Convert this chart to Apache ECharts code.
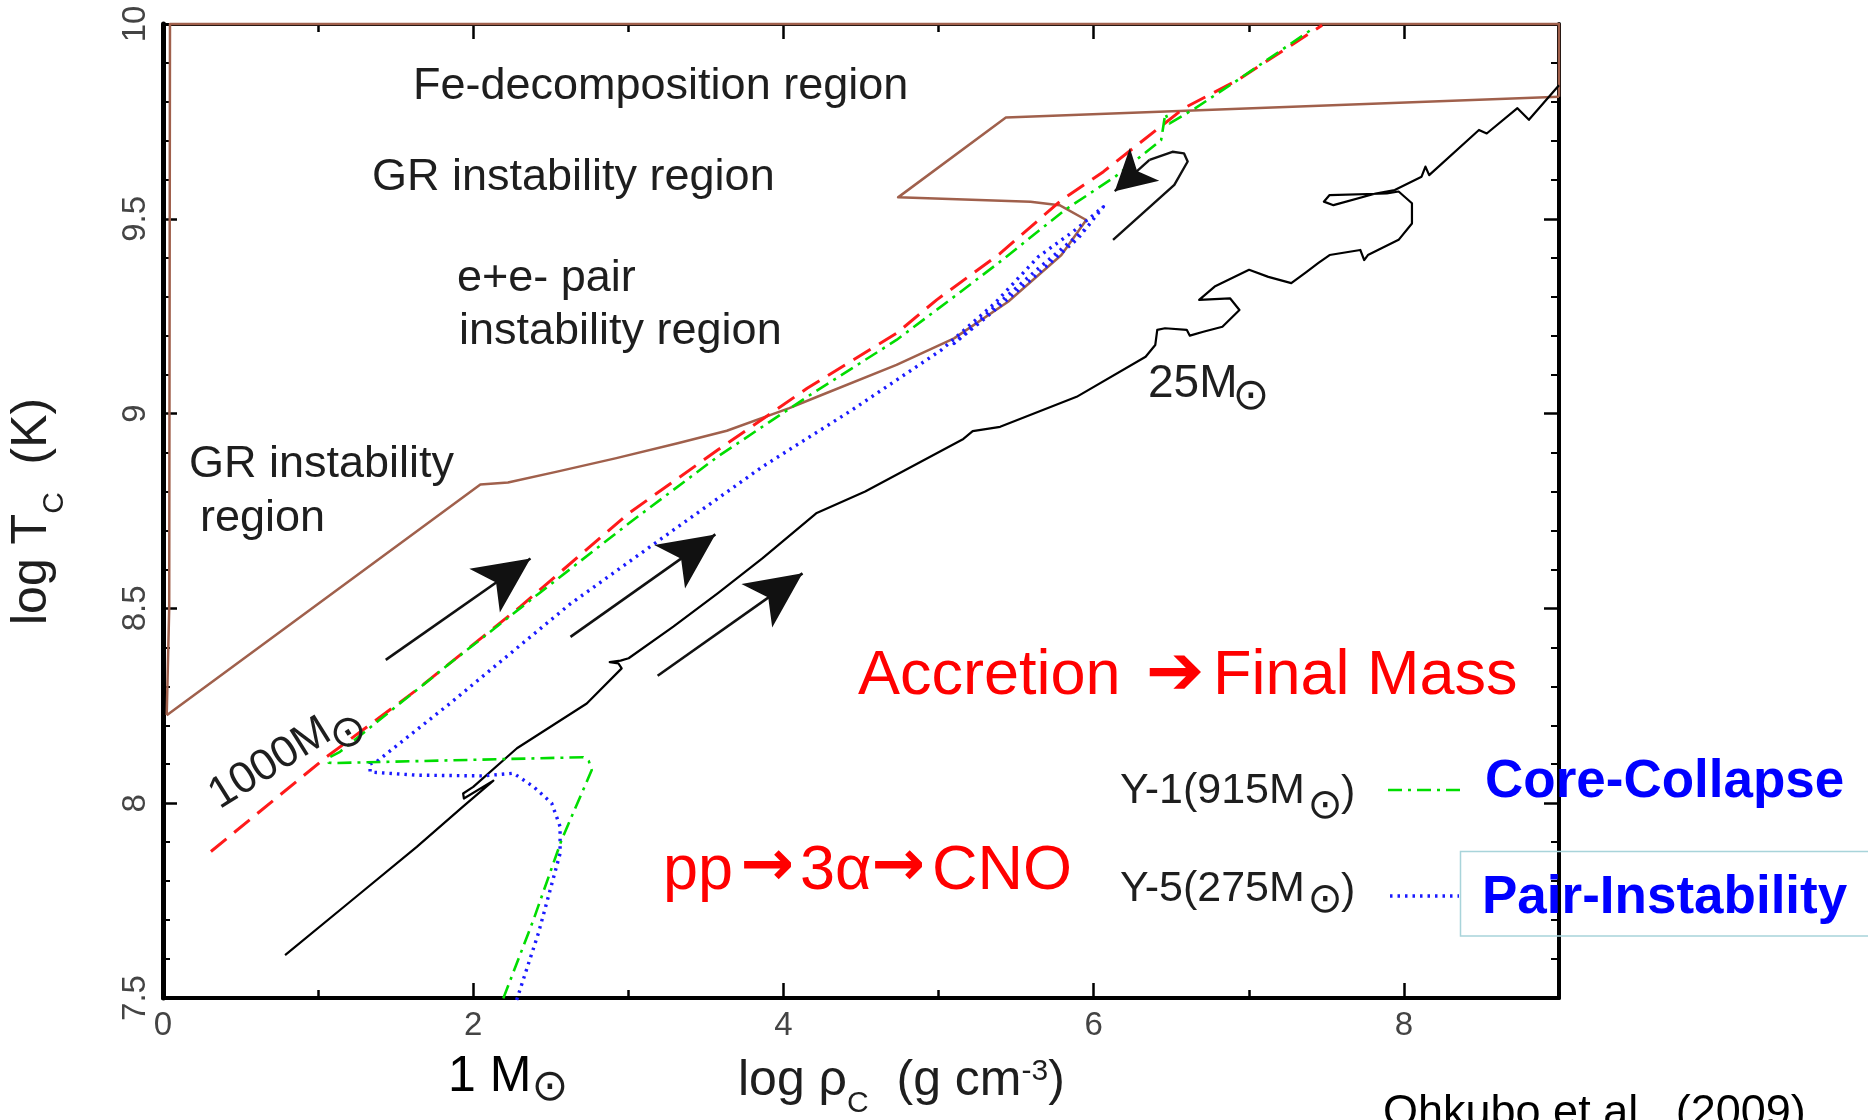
<!DOCTYPE html>
<html>
<head>
<meta charset="utf-8">
<title>Ohkubo et al. (2009) – log Tc vs log rho_c</title>
<script src="https://cdn.jsdelivr.net/npm/echarts@6.0.0/dist/echarts.min.js"></script>
<style>
html,body{margin:0;padding:0;background:#fff;}
#chart{width:1868px;height:1120px;}
</style>
</head>
<body>
<div id="chart"></div>
<script>
// ---------------- axis ranges & tick labels ----------------
const xRange = [0, 9];
const yRange = [7.5, 10];
const xTickLabels = [0, 2, 4, 6, 8];
const yTickLabels = [7.5, 8, 8.5, 9, 9.5, 10];

// ---------------- instability-region boundaries (brown) ----------------
const brownFrame = [[9, 9.813], [9, 10], [0.045, 10], [0.04, 8.5], [0.024, 8.226]];
const brownBoundary = [[0.024, 8.226], [2.046, 8.818], [2.224, 8.823], [2.541, 8.851], [2.916, 8.885],
  [3.318, 8.924], [3.635, 8.956], [4.038, 9.014], [4.21, 9.042], [4.729, 9.125], [5.10, 9.193],
  [5.448, 9.287], [5.792, 9.407], [5.952, 9.497], [5.78, 9.535], [5.593, 9.544], [4.739, 9.555],
  [5.434, 9.760], [9.0, 9.813]];

// ---------------- evolutionary tracks ----------------
const track25 = [[0.787, 7.61], [1.206, 7.747], [1.636, 7.888], [1.93, 7.99], [2.13, 8.058], [1.94, 8.012],
  [1.935, 8.025], [2.0, 8.042], [2.282, 8.141], [2.732, 8.256], [2.957, 8.346], [2.936, 8.359], [2.88, 8.362],
  [2.95, 8.366], [3.002, 8.372], [3.29, 8.453], [3.578, 8.539], [3.866, 8.629], [4.211, 8.744], [4.527, 8.80],
  [5.16, 8.935], [5.22, 8.955], [5.397, 8.966], [5.89, 9.043], [6.335, 9.146], [6.397, 9.176], [6.41, 9.215],
  [6.46, 9.219], [6.6, 9.215], [6.62, 9.2], [6.707, 9.21], [6.83, 9.223], [6.94, 9.266], [6.879, 9.296],
  [6.68, 9.292], [6.78, 9.326], [7.002, 9.369], [7.126, 9.351], [7.274, 9.335], [7.373, 9.364], [7.447, 9.386],
  [7.521, 9.407], [7.719, 9.42], [7.744, 9.394], [7.768, 9.407], [7.966, 9.446], [8.052, 9.488], [8.052, 9.54],
  [7.966, 9.57], [7.89, 9.565], [7.521, 9.561], [7.484, 9.544], [7.546, 9.535], [7.818, 9.565], [7.941, 9.574],
  [8.114, 9.608], [8.139, 9.634], [8.163, 9.612], [8.484, 9.728], [8.534, 9.719], [8.732, 9.784], [8.806, 9.754],
  [9.0, 9.843]];
const track1000 = [[0.309, 7.876], [1.055, 8.119], [1.636, 8.291], [2.302, 8.504], [3.002, 8.744], [3.578, 8.907],
  [4.153, 9.065], [4.729, 9.206], [4.988, 9.292], [5.397, 9.411], [5.792, 9.548], [6.063, 9.621], [6.582, 9.784],
  [6.928, 9.856], [7.473, 9.997]];
const trackY1 = [[2.194, 7.499], [2.388, 7.70], [2.57, 7.906], [2.764, 8.085], [2.745, 8.108], [2.71, 8.118],
  [1.10, 8.103], [1.068, 8.104], [1.075, 8.118], [1.141, 8.132], [1.421, 8.222], [1.85, 8.359], [2.426, 8.539],
  [3.002, 8.718], [3.578, 8.89], [4.153, 9.043], [4.729, 9.189], [5.074, 9.292], [5.397, 9.39], [5.816, 9.523],
  [6.138, 9.608], [6.435, 9.702], [6.462, 9.77], [6.49, 9.745], [6.656, 9.784], [6.928, 9.856], [7.394, 9.983]];
const trackY5 = [[2.28, 7.495], [2.42, 7.666], [2.56, 7.871], [2.56, 7.94], [2.506, 8.0], [2.39, 8.042],
  [2.259, 8.077], [2.065, 8.07], [1.636, 8.072], [1.335, 8.08], [1.335, 8.101], [1.378, 8.107], [1.85, 8.256],
  [2.624, 8.511], [3.29, 8.701], [3.866, 8.864], [4.441, 9.009], [5.017, 9.163], [5.362, 9.283], [5.644, 9.403],
  [5.867, 9.467], [6.063, 9.531], [5.9, 9.45], [5.6, 9.345], [5.3, 9.245], [5.1, 9.18], [5.35, 9.27],
  [5.65, 9.375], [5.95, 9.475]];

// ---------------- arrows ----------------
const accretionTails = [[1.436, 8.368], [2.627, 8.427], [3.189, 8.327]];
const accretionHeads = [[2.369, 8.628], [3.561, 8.690], [4.123, 8.590]];
const returnCurve = [[6.125, 9.446], [6.52, 9.587], [6.606, 9.647], [6.582, 9.668], [6.508, 9.672], [6.36, 9.651]];
const returnHead = [6.136, 9.571];

// ---------------- styling ----------------
const FONT = '"Liberation Sans", Arial, Helvetica, sans-serif';
const SYM = '"DejaVu Sans", sans-serif';
const INK = '#1e1e1e';
const BROWN = '#a0604c';

function txt(text, x, y, size, color, extra) {
  extra = extra || {};
  return {
    type: 'text', x: x, y: y + (extra.raw ? 0 : Math.round(size * 0.07)), z: 100, silent: true,
    rotation: extra.rotation || 0,
    style: {
      text: text,
      font: (extra.weight || 'normal') + ' ' + size + 'px ' + (extra.family || FONT),
      fill: color,
      textAlign: extra.align || 'left',
      textVerticalAlign: extra.va || 'middle',
      align: extra.align || 'left',
      verticalAlign: extra.va || 'middle'
    }
  };
}
function sun(x, y, size) {
  return txt('\u2299', x, y, size || 44, INK, { family: SYM, align: 'center', raw: true });
}
const richTitle = {
  m: { fontFamily: 'Liberation Sans', fontSize: 50, lineHeight: 62, verticalAlign: 'top', fill: INK, color: INK },
  sub: { fontFamily: 'Liberation Sans', fontSize: 30, lineHeight: 26, verticalAlign: 'bottom', fill: INK, color: INK },
  sup: { fontFamily: 'Liberation Sans', fontSize: 30, lineHeight: 40, verticalAlign: 'top', fill: INK, color: INK }
};

function lineSeries(data, color, width, type, z) {
  return {
    type: 'line', data: data, xAxisIndex: 0, yAxisIndex: 0, symbol: 'none', showSymbol: false,
    clip: false, silent: true, animation: false, z: z || 2,
    lineStyle: { color: color, width: width, type: type || 'solid', cap: 'butt', join: 'round' }
  };
}

const chart = echarts.init(document.getElementById('chart'), null, { renderer: 'canvas', width: 1868, height: 1120 });

const tickStyle = { color: '#000', width: 2.5 };
const labelStyle = { fontSize: 33, color: '#444', fontFamily: FONT };

const option = {
  backgroundColor: '#ffffff',
  animation: false,
  textStyle: { fontFamily: FONT },
  grid: { left: 163, top: 24, right: 1868 - 1559, bottom: 1120 - 998, containLabel: false },
  xAxis: [
    { type: 'value', position: 'bottom', min: xRange[0], max: xRange[1], interval: 1,
      axisLine: { show: true, onZero: false, lineStyle: { color: '#000', width: 4 } },
      axisTick: { inside: true, length: 8, lineStyle: tickStyle },
      axisLabel: { show: false }, splitLine: { show: false } },
    { type: 'value', position: 'bottom', min: xRange[0], max: xRange[1], interval: 2,
      axisLine: { show: false, onZero: false },
      axisTick: { inside: true, length: 15, lineStyle: tickStyle },
      axisLabel: Object.assign({ show: true, margin: 11, showMaxLabel: false,
        formatter: function (v) { return xTickLabels.indexOf(v) >= 0 ? String(v) : ''; } }, labelStyle),
      splitLine: { show: false } },
    { type: 'value', position: 'top', min: xRange[0], max: xRange[1], interval: 1,
      axisLine: { show: true, onZero: false, lineStyle: { color: '#000', width: 3 } },
      axisTick: { inside: true, length: 8, lineStyle: tickStyle },
      axisLabel: { show: false }, splitLine: { show: false } },
    { type: 'value', position: 'top', min: xRange[0], max: xRange[1], interval: 2,
      axisLine: { show: false, onZero: false },
      axisTick: { inside: true, length: 15, lineStyle: tickStyle },
      axisLabel: { show: false }, splitLine: { show: false } }
  ],
  yAxis: [
    { type: 'value', position: 'left', min: yRange[0], max: yRange[1], interval: 0.5,
      axisLine: { show: true, onZero: false, lineStyle: { color: '#000', width: 5 } },
      axisTick: { inside: true, length: 14, lineStyle: tickStyle },
      minorTick: { show: true, splitNumber: 5, length: 7, lineStyle: { color: '#000', width: 2 } },
      axisLabel: Object.assign({ show: true, rotate: 90, margin: 11,
        formatter: function (v) { return yTickLabels.indexOf(v) >= 0 ? String(v) : ''; } }, labelStyle),
      splitLine: { show: false }, minorSplitLine: { show: false } },
    { type: 'value', position: 'right', min: yRange[0], max: yRange[1], interval: 0.5,
      axisLine: { show: true, onZero: false, lineStyle: { color: '#000', width: 4 } },
      axisTick: { inside: true, length: 15, lineStyle: tickStyle },
      minorTick: { show: true, splitNumber: 5, length: 8, lineStyle: { color: '#000', width: 2 } },
      axisLabel: { show: false }, splitLine: { show: false }, minorSplitLine: { show: false } }
  ],
  series: [
    lineSeries(brownFrame, BROWN, 2.5, 'solid', 3),
    lineSeries(brownBoundary, BROWN, 2.5, 'solid', 3),
    lineSeries(track25, '#000000', 2.2, 'solid', 4),
    lineSeries(trackY5, '#1a1aff', 3.4, [2.5, 5], 5),
    lineSeries(track1000, '#ff1a1a', 3, [20, 10], 6),
    lineSeries(trackY1, '#00dd00', 2.6, [14, 6, 3, 6], 7),
    {
      type: 'lines', coordinateSystem: 'cartesian2d', xAxisIndex: 0, yAxisIndex: 0, silent: true, animation: false,
      symbol: ['none', 'arrow'], symbolSize: [1, [40, 56]], z: 8,
      lineStyle: { color: '#111', width: 2.6, opacity: 1, curveness: 0 },
      data: accretionTails.map(function (t, i) { return { coords: [t, accretionHeads[i]] }; })
    },
    lineSeries(returnCurve, '#111', 2.4, 'solid', 8),
    {
      type: 'lines', coordinateSystem: 'cartesian2d', xAxisIndex: 0, yAxisIndex: 0, silent: true, animation: false,
      symbol: ['none', 'arrow'], symbolSize: [1, [33, 40]], z: 8,
      lineStyle: { color: '#111', width: 2.4, opacity: 1, curveness: 0 },
      data: [{ coords: [returnCurve[returnCurve.length - 1], returnHead] }]
    }
  ],
  graphic: {
    elements: [
      // region names
      txt('Fe-decomposition region', 413, 84, 45, INK),
      txt('GR instability region', 372, 175, 45, INK),
      txt('e+e- pair', 457, 276, 45, INK),
      txt('instability region', 459, 329, 45, INK),
      txt('GR instability', 189, 462, 45, INK),
      txt('region', 200, 516, 45, INK),
      // 1000 Msun label (rotated)
      { type: 'group', x: 221, y: 812, rotation: 0.5585, silent: true, children: [
        txt('1000M', 0, -15, 44, INK, { raw: true }),
        sun(150, 2, 44)
      ] },
      // 25 Msun label
      txt('25M', 1148, 381, 46, INK),
      sun(1251, 398, 44),
      // red annotations
      txt('Accretion', 858, 673, 63, '#ff0000'),
      txt('\u2794', 1175, 676, 70, '#ff0000', { family: SYM, align: 'center', raw: true }),
      txt('Final Mass', 1213, 673, 63, '#ff0000'),
      txt('pp', 663, 868, 63, '#ff0000'),
      txt('\u2192', 767, 868, 64, '#ff0000', { family: SYM, align: 'center', weight: 'bold', raw: true }),
      txt('3\u03b1', 800, 868, 63, '#ff0000'),
      txt('\u2192', 898, 868, 64, '#ff0000', { family: SYM, align: 'center', weight: 'bold', raw: true }),
      txt('CNO', 932, 868, 63, '#ff0000'),
      // legend
      txt('Y-1(915M', 1120, 788, 43, INK),
      sun(1325, 807, 42),
      txt(')', 1341, 790, 43, INK),
      { type: 'line', silent: true, z: 100, shape: { x1: 1388, y1: 790, x2: 1463, y2: 790 },
        style: { stroke: '#00dd00', lineWidth: 2.6, lineDash: [14, 6, 3, 6] } },
      txt('Y-5(275M', 1120, 886, 43, INK),
      sun(1325, 901, 42),
      txt(')', 1341, 888, 43, INK),
      { type: 'line', silent: true, z: 100, shape: { x1: 1390, y1: 896, x2: 1459, y2: 896 },
        style: { stroke: '#1a1aff', lineWidth: 3.4, lineDash: [2.5, 5] } },
      txt('Core-Collapse', 1485, 778, 53, '#0000ff', { weight: 'bold' }),
      { type: 'rect', silent: true, z: 99, shape: { x: 1460.5, y: 851.5, width: 430, height: 84.5 },
        style: { fill: 'none', stroke: '#a8d4da', lineWidth: 1.5 } },
      txt('Pair-Instability', 1482, 894, 53, '#0000ff', { weight: 'bold' }),
      // mass marker & citation
      txt('1 M', 448, 1073, 50, '#000'),
      sun(550, 1089, 44),
      txt('Ohkubo et al.  (2009)', 1383, 1111, 45, '#000'),
      // axis titles
      { type: 'text', x: 738, y: 1056.7, z: 100, silent: true,
        style: { text: '{m|log \u03c1}{sub|C}{m|  (g cm}{sup|-3}{m|)}', rich: richTitle,
                 textAlign: 'left', textVerticalAlign: 'top', align: 'left', verticalAlign: 'top' } },
      { type: 'group', x: 56, y: 625, rotation: Math.PI / 2, silent: true, children: [
        { type: 'text', x: 0, y: -48.3, z: 100,
          style: { text: '{m|log T}{sub|C}{m|  (K)}', rich: richTitle,
                   textAlign: 'left', textVerticalAlign: 'top', align: 'left', verticalAlign: 'top' } }
      ] }
    ]
  }
};
chart.setOption(option);
</script>
</body>
</html>
